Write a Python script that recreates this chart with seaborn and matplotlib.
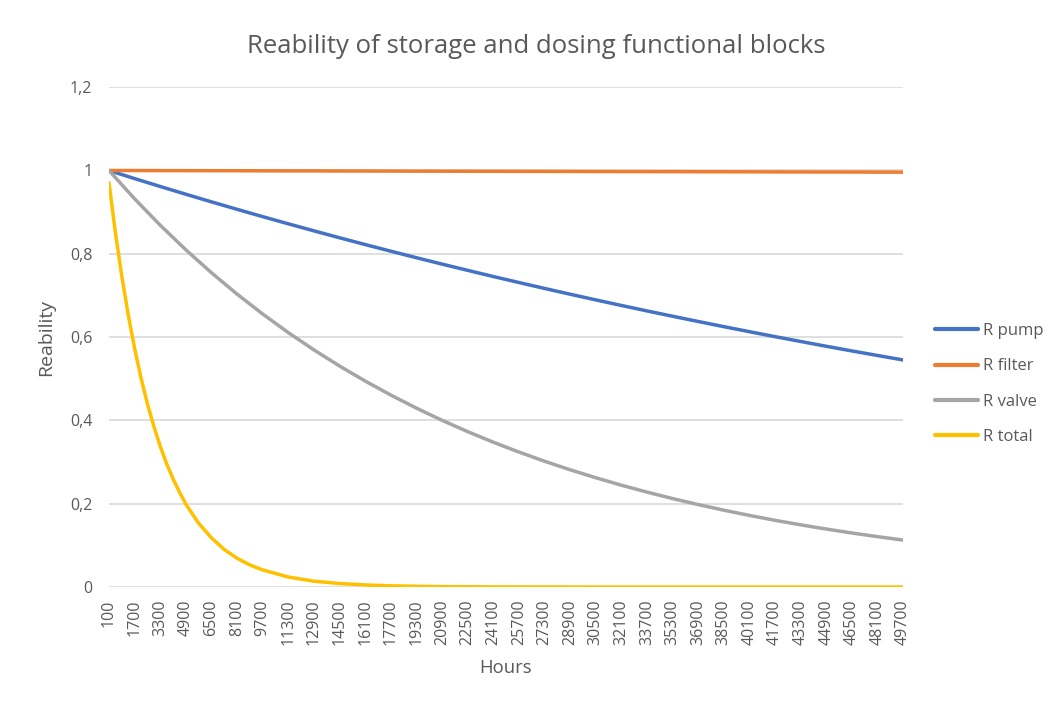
"""
Reliability of storage and dosing functional blocks - line chart.
"""

import matplotlib
matplotlib.use('Agg')
import matplotlib.pyplot as plt
import seaborn as sns
import pandas as pd

# Hours at each labelled category (every 1600 h)
hours = [100, 1700, 3300, 4900, 6500, 8100, 9700, 11300, 12900, 14500,
         16100, 17700, 19300, 20900, 22500, 24100, 25700, 27300, 28900, 30500,
         32100, 33700, 35300, 36900, 38500, 40100, 41700, 43300, 44900, 46500,
         48100, 49700]

r_pump = [1.0000, 0.9806, 0.9616, 0.9430, 0.9247, 0.9068, 0.8892, 0.8720,
          0.8551, 0.8385, 0.8222, 0.8063, 0.7906, 0.7753, 0.7603, 0.7455,
          0.7311, 0.7169, 0.7030, 0.6894, 0.6760, 0.6629, 0.6501, 0.6375,
          0.6251, 0.6130, 0.6011, 0.5895, 0.5780, 0.5668, 0.5559, 0.5451]

r_filter = [1.0000, 0.9999, 0.9997, 0.9996, 0.9995, 0.9994, 0.9992, 0.9991,
            0.9990, 0.9988, 0.9987, 0.9986, 0.9984, 0.9983, 0.9982, 0.9981,
            0.9979, 0.9978, 0.9977, 0.9975, 0.9974, 0.9973, 0.9972, 0.9970,
            0.9969, 0.9968, 0.9966, 0.9965, 0.9964, 0.9963, 0.9961, 0.9960]

r_valve = [1.0000, 0.9320, 0.8686, 0.8096, 0.7545, 0.7032, 0.6554, 0.6108,
           0.5693, 0.5306, 0.4945, 0.4609, 0.4295, 0.4003, 0.3731, 0.3477,
           0.3241, 0.3020, 0.2815, 0.2624, 0.2445, 0.2279, 0.2124, 0.1979,
           0.1845, 0.1719, 0.1602, 0.1493, 0.1392, 0.1297, 0.1209, 0.1127]

# Total drops fast, so it is read at more points early on
hours_total = [100, 500, 900, 1300, 1700, 2100, 2500, 2900, 3300, 3700,
               4100, 4500, 4900, 5700, 6500, 7300, 8100, 8900, 9700, 11300,
               12900, 14500, 16100, 17700, 19300, 20900, 22500, 24100, 25700,
               27300, 28900, 30500, 32100, 33700, 35300, 36900, 38500, 40100,
               41700, 43300, 44900, 46500, 48100, 49700]

r_total = [0.971, 0.851, 0.746, 0.654, 0.573, 0.502, 0.440, 0.386, 0.338,
           0.296, 0.260, 0.228, 0.199, 0.153, 0.118, 0.090, 0.069, 0.053,
           0.041, 0.024, 0.014, 0.0084, 0.0050, 0.0029, 0.0017, 0.0010,
           0.0006, 0.0003, 0.0002, 0.0001, 0.0001, 0.0, 0.0, 0.0, 0.0, 0.0,
           0.0, 0.0, 0.0, 0.0, 0.0, 0.0, 0.0, 0.0]

series_names = ['R pump', 'R filter', 'R valve', 'R total']
colors = ['#4472C4', '#ED7D31', '#A5A5A5', '#FFC000']

y_ticks = [0, 0.2, 0.4, 0.6, 0.8, 1.0, 1.2]
y_ticklabels = ['0', '0,2', '0,4', '0,6', '0,8', '1', '1,2']

# Long-form table for seaborn
frames = []
for name, xs, ys in [('R pump', hours, r_pump), ('R filter', hours, r_filter),
                     ('R valve', hours, r_valve), ('R total', hours_total, r_total)]:
    frames.append(pd.DataFrame({'Hours': xs, 'Reability': ys, 'series': name}))
df = pd.concat(frames, ignore_index=True)

sns.set_theme(style='white')
plt.rcParams['font.family'] = ['Open Sans', 'DejaVu Sans']
text_col = '#595959'

fig = plt.figure(figsize=(10.49, 7.02), dpi=100)
ax = fig.add_axes([0.1039, 0.1638, 0.757, 0.712])

sns.lineplot(data=df, x='Hours', y='Reability', hue='series',
             hue_order=series_names, palette=dict(zip(series_names, colors)),
             estimator=None, sort=False, linewidth=2.5, ax=ax, legend=False)

ax.set_xlim(100, 49700)
ax.set_ylim(0, 1.2)
ax.set_xticks(hours)
ax.set_xticklabels([str(h) for h in hours], rotation=90, fontsize=11.5, color=text_col)
ax.set_yticks(y_ticks)
ax.set_yticklabels(y_ticklabels, fontsize=11.5, color=text_col)
ax.tick_params(axis='x', length=0, pad=9)
ax.tick_params(axis='y', length=0, pad=12)
ax.grid(axis='y', color='#D9D9D9', linewidth=1.2)
ax.set_axisbelow(True)
for s in ax.spines.values():
    s.set_visible(False)

ax.set_xlabel('Hours', fontsize=13.3, color=text_col, labelpad=10)
ax.set_ylabel('Reability', fontsize=14, color=text_col, labelpad=11)
fig.text(0.511, 0.934, 'Reability of storage and dosing functional blocks',
         ha='center', va='center', fontsize=18.5, color=text_col)

handles = [plt.Line2D([], [], color=c, linewidth=3) for c in colors]
fig.legend(handles, series_names, loc='center left', bbox_to_anchor=(0.8835, 0.453),
           frameon=False, fontsize=12, handlelength=2.6, handletextpad=0.25,
           labelspacing=1.15, borderpad=0, labelcolor=text_col)

fig.savefig('out.png', dpi=100)
